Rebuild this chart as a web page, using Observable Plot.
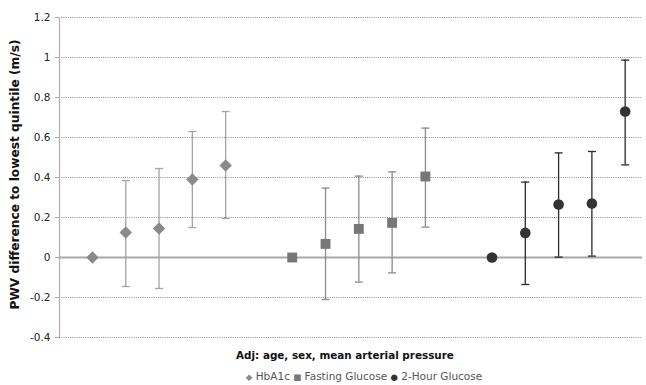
<!DOCTYPE html>
<html>
<head>
<meta charset="utf-8">
<script src="https://cdn.jsdelivr.net/npm/d3@7"></script>
<script src="https://cdn.jsdelivr.net/npm/@observablehq/plot@0.6"></script>
<style>
  html, body { margin: 0; padding: 0; background: #fff; }
  #chart { width: 646px; font-family: "DejaVu Sans", Verdana, sans-serif; }
  #xtitle { text-align: center; font-weight: bold; font-size: 10.4px; color: #111; padding-left: 44px; margin-top: 3px; height: 14px; line-height: 14px; }
  #legend { text-align: center; font-size: 10.5px; color: #555; padding-left: 82px; margin-top: 8px; line-height: 13px; }
  #legend .sym { font-size: 8.5px; }
</style>
</head>
<body>
<div id="chart"></div>
<script>
// Series names and quintile categories
const series = ["HbA1c", "Fasting Glucose", "2-Hour Glucose"];
const quintiles = ["Q1", "Q2", "Q3", "Q4", "Q5"];

// PWV difference to lowest quintile (m/s), with 95% CI bounds
const hba1cEst  = [0, 0.125, 0.145, 0.39, 0.46];
const hba1cLow  = [0, -0.145, -0.155, 0.15, 0.195];
const hba1cHigh = [0, 0.385, 0.445, 0.63, 0.73];

const fastingEst  = [0, 0.068, 0.143, 0.173, 0.405];
const fastingLow  = [0, -0.21, -0.123, -0.077, 0.152];
const fastingHigh = [0, 0.347, 0.407, 0.428, 0.647];

const twoHourEst  = [0, 0.123, 0.265, 0.27, 0.73];
const twoHourLow  = [0, -0.135, 0.002, 0.007, 0.463];
const twoHourHigh = [0, 0.377, 0.523, 0.53, 0.987];

const yTicks = [-0.4, -0.2, 0, 0.2, 0.4, 0.6, 0.8, 1, 1.2];

// Marker styling per series
const markerSymbol = ["diamond2", "square2", "circle"];
const markerFill = ["#8a8a8a", "#777777", "#333333"];
const barStroke = ["#a4a4a4", "#8a8a8a", "#2a2a2a"];
const markerR = [5.6, 6.3, 5.3];

const estimates = [hba1cEst, fastingEst, twoHourEst];
const lows = [hba1cLow, fastingLow, twoHourLow];
const highs = [hba1cHigh, fastingHigh, twoHourHigh];

// One row per series × quintile; groups sit on a shared axis with a one-slot gap
const rows = series.flatMap((s, si) => quintiles.map((q, qi) => ({
  series: s,
  si,
  quintile: q,
  slot: si * (quintiles.length + 1) + qi,
  est: estimates[si][qi],
  low: lows[si][qi],
  high: highs[si][qi]
})));
const withCI = rows.filter(d => d.high !== d.low);

const xDomain = [-0.99, 16.52];

// Horizontal cap for error bars
const capSymbol = {
  draw(context, size) {
    const r = Math.sqrt(size / Math.PI);
    context.moveTo(-r, 0);
    context.lineTo(r, 0);
  }
};

const plot = Plot.plot({
  width: 646,
  height: 345,
  marginTop: 17,
  marginBottom: 8,
  marginLeft: 59,
  marginRight: 4,
  style: { fontFamily: "DejaVu Sans, Verdana, sans-serif", fontSize: "10px", color: "#222", background: "#fff", overflow: "visible" },
  x: { type: "linear", domain: xDomain, axis: null },
  y: { domain: [yTicks[0], yTicks[yTicks.length - 1]], ticks: yTicks },
  marks: [
    Plot.gridY(yTicks.filter(t => t !== 0), { stroke: "#8c8c8c", strokeOpacity: 1, strokeWidth: 1, strokeDasharray: "1,1.2" }),
    Plot.ruleX([xDomain[0]], { stroke: "#b4b4b4", strokeWidth: 1.3 }),
    Plot.ruleY([0], { stroke: "#a8a8a8", strokeWidth: 2 }),
    Plot.axisY(yTicks, {
      tickSize: 4, tickPadding: 5, fontSize: 10.5, stroke: "#aaa", strokeOpacity: 1,
      tickFormat: d => String(d), label: null
    }),
    Plot.text(["PWV difference to lowest quintile (m/s)"], {
      frameAnchor: "left", dx: -44.5, dy: -3, rotate: -90, textAnchor: "middle",
      fontWeight: "bold", fontSize: 12.2, fill: "#111"
    }),
    Plot.ruleX(withCI, { x: "slot", y1: "low", y2: "high", stroke: d => barStroke[d.si], strokeWidth: 1.3 }),
    Plot.dot(withCI, { x: "slot", y: "low", symbol: capSymbol, r: 4, stroke: d => barStroke[d.si], strokeWidth: 1.3, fill: "none" }),
    Plot.dot(withCI, { x: "slot", y: "high", symbol: capSymbol, r: 4, stroke: d => barStroke[d.si], strokeWidth: 1.3, fill: "none" }),
    ...series.map((s, si) => Plot.dot(rows.filter(d => d.si === si), {
      x: "slot", y: "est",
      symbol: markerSymbol[si], r: markerR[si],
      fill: markerFill[si], stroke: "none"
    }))
  ]
});

const chart = document.getElementById("chart");
chart.appendChild(plot);

const xtitle = document.createElement("div");
xtitle.id = "xtitle";
xtitle.textContent = "Adj: age, sex, mean arterial pressure";
chart.appendChild(xtitle);

const legend = document.createElement("div");
legend.id = "legend";
const legendGlyph = ["◆", "■", "●"];
series.forEach((s, si) => {
  const sym = document.createElement("span");
  sym.className = "sym";
  sym.style.color = markerFill[si];
  sym.textContent = legendGlyph[si];
  legend.appendChild(sym);
  legend.appendChild(document.createTextNode(" " + s + (si < series.length - 1 ? " " : "")));
});
chart.appendChild(legend);
</script>
</body>
</html>
